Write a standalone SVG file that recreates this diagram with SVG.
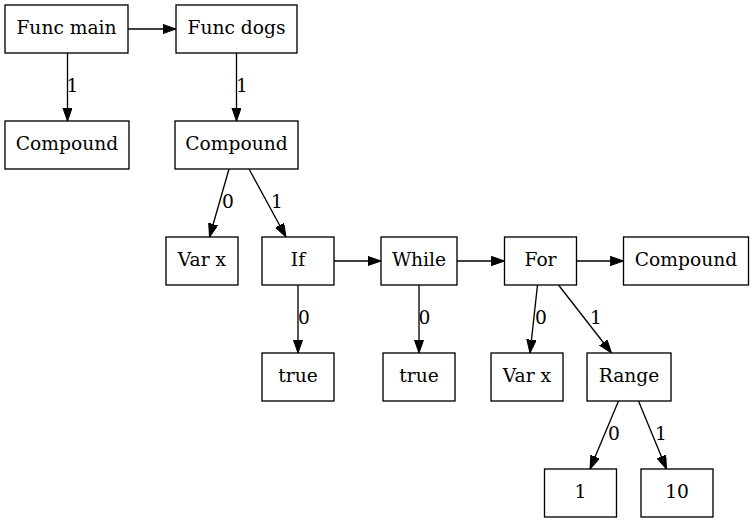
<svg xmlns="http://www.w3.org/2000/svg" width="753" height="523" viewBox="0 0 753 523">
<style>
  .node rect { fill: #ffffff; stroke: #000000; stroke-width: 1.33; }
  .node text, .lbl { font-family: "DejaVu Serif", "Liberation Serif", serif; font-size: 18.67px; fill: #000000; }
  .node text { text-anchor: middle; }
  .lbl { text-anchor: middle; }
  .edge { stroke: #000000; stroke-width: 1.33; fill: none; marker-end: url(#arrow); }
</style>
<defs>
  <marker id="arrow" markerUnits="userSpaceOnUse" markerWidth="14" markerHeight="10" refX="13.33" refY="4.67" orient="auto" viewBox="0 0 14 10">
    <path d="M0,0 L13.33,4.67 L0,9.33 Z" fill="#000000" stroke="#000000" stroke-width="1"/>
  </marker>
</defs>
<rect width="753" height="523" fill="#ffffff"/>

<g id="connectors">
  <line class="edge" x1="128" y1="29" x2="176" y2="29"/>
  <line class="edge" x1="67.5" y1="53" x2="67.5" y2="121"/>
  <text class="lbl" x="72.5" y="92">1</text>
  <line class="edge" x1="236.5" y1="53" x2="236.5" y2="121"/>
  <text class="lbl" x="242" y="92">1</text>
  <line class="edge" x1="229" y1="169" x2="209.5" y2="237"/>
  <text class="lbl" x="228" y="208">0</text>
  <line class="edge" x1="249" y1="169" x2="286" y2="237"/>
  <text class="lbl" x="277" y="208">1</text>
  <line class="edge" x1="334" y1="261" x2="381" y2="261"/>
  <line class="edge" x1="457" y1="261" x2="504.5" y2="261"/>
  <line class="edge" x1="576.5" y1="261" x2="623.5" y2="261"/>
  <line class="edge" x1="298" y1="285" x2="298" y2="353"/>
  <text class="lbl" x="304" y="324">0</text>
  <line class="edge" x1="419" y1="285" x2="419" y2="353"/>
  <text class="lbl" x="424.5" y="324">0</text>
  <line class="edge" x1="537.5" y1="285" x2="530" y2="353"/>
  <text class="lbl" x="541" y="324">0</text>
  <line class="edge" x1="558.5" y1="285" x2="611.5" y2="353"/>
  <text class="lbl" x="596" y="324">1</text>
  <line class="edge" x1="618.5" y1="401" x2="590" y2="469"/>
  <text class="lbl" x="614" y="440">0</text>
  <line class="edge" x1="638.5" y1="401" x2="666.5" y2="469"/>
  <text class="lbl" x="661" y="440">1</text>
</g>

<g id="n_main" class="node"><rect x="5" y="5" width="123" height="48"/><text x="66.5" y="34">Func main</text></g>
<g id="n_dogs" class="node"><rect x="176" y="5" width="121" height="48"/><text x="236.5" y="34">Func dogs</text></g>
<g id="n_comp1" class="node"><rect x="5" y="121" width="124" height="48"/><text x="67" y="150">Compound</text></g>
<g id="n_comp2" class="node"><rect x="175" y="121" width="123" height="48"/><text x="236.5" y="150">Compound</text></g>
<g id="n_varx1" class="node"><rect x="166" y="237" width="72" height="48"/><text x="202" y="266">Var x</text></g>
<g id="n_if" class="node"><rect x="262" y="237" width="72" height="48"/><text x="298" y="266">If</text></g>
<g id="n_while" class="node"><rect x="381" y="237" width="76" height="48"/><text x="419" y="266">While</text></g>
<g id="n_for" class="node"><rect x="504.5" y="237" width="72" height="48"/><text x="540.5" y="266">For</text></g>
<g id="n_comp3" class="node"><rect x="623.5" y="237" width="125" height="48"/><text x="686" y="266">Compound</text></g>
<g id="n_true1" class="node"><rect x="262" y="353" width="72" height="48"/><text x="298" y="382">true</text></g>
<g id="n_true2" class="node"><rect x="383" y="353" width="72" height="48"/><text x="419" y="382">true</text></g>
<g id="n_varx2" class="node"><rect x="491" y="353" width="72" height="48"/><text x="527" y="382">Var x</text></g>
<g id="n_range" class="node"><rect x="587" y="353" width="84" height="48"/><text x="629" y="382">Range</text></g>
<g id="n_one" class="node"><rect x="544.5" y="469" width="72" height="48"/><text x="580.5" y="498">1</text></g>
<g id="n_ten" class="node"><rect x="641" y="469" width="72" height="48"/><text x="677" y="498">10</text></g>
</svg>
